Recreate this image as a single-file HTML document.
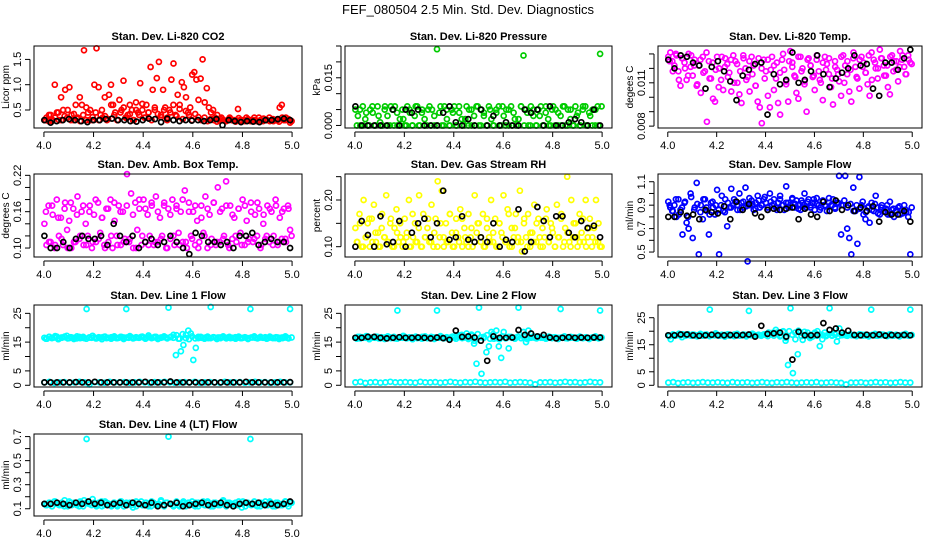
<!DOCTYPE html>
<html><head><meta charset="utf-8"><title>FEF_080504 diagnostics</title>
<style>
html,body{margin:0;padding:0;background:#fff;}
svg{display:block;font-family:"Liberation Sans",Arial,sans-serif;}
</style></head>
<body>
<svg id="chart" width="936" height="540" viewBox="0 0 936 540">
<rect width="936" height="540" fill="#fff"/>
<text x="468" y="14" text-anchor="middle" font-size="13">FEF_080504  2.5 Min. Std. Dev. Diagnostics</text>
</svg>
<script>
// ---------- data ----------
const xTicks = [4.0, 4.2, 4.4, 4.6, 4.8, 5.0];
const xTickLabels = ["4.0", "4.2", "4.4", "4.6", "4.8", "5.0"];

const co2Red = [0.3,0.35,0.28,0.4,0.3,1.0,0.45,0.3,0.75,0.5,0.9,0.35,0.95,0.4,0.3,0.6,0.35,0.75,0.6,1.68,0.3,0.45,0.5,0.3,1.0,1.72,0.95,0.4,0.35,0.75,0.3,0.8,1.0,0.6,0.45,0.3,0.7,0.5,1.08,0.35,0.4,0.6,0.5,0.3,0.65,0.45,1.03,0.5,0.35,0.6,0.45,1.35,0.9,0.5,1.13,1.45,0.4,0.9,0.55,0.35,0.5,1.1,1.42,0.4,0.8,0.6,1.05,0.95,0.75,0.45,0.55,1.2,1.25,1.1,0.7,1.12,1.5,0.65,0.93,0.55,0.45,0.5,0.35,0.4,0.3,0.35,0.3,0.28,0.3,0.35,0.3,0.3,0.3,0.52,0.3,0.28,0.3,0.35,0.3,0.28,0.3,0.3,0.28,0.35,0.3,0.28,0.3,0.3,0.35,0.3,0.28,0.3,0.3,0.55,0.6,0.3,0.35,0.3,0.25];
const co2RedDense = [0.3,0.4,0.28,0.35,0.45,0.3,0.38,0.5,0.3,0.42,0.33,0.28,0.4,0.55,0.3,0.36,0.45,0.3,0.5,0.38,0.32,0.6,0.4,0.3,0.45,0.55,0.35,0.42,0.3,0.5,0.4,0.62,0.35,0.45,0.3,0.55,0.42,0.36,0.5,0.3,0.45,0.6,0.38,0.52,0.32,0.48,0.4,0.3,0.42,0.36,0.3,0.35,0.28,0.32,0.3,0.27,0.33,0.3,0.28,0.32,0.3,0.27,0.34,0.3,0.28,0.32,0.3,0.35,0.28,0.3,0.33,0.3,0.28,0.32,0.3,0.27,0.35,0.3,0.32,0.28];
const co2Black = [0.3,0.25,0.28,0.3,0.32,0.3,0.28,0.26,0.3,0.3,0.32,0.33,0.3,0.3,0.28,0.27,0.3,0.33,0.32,0.26,0.33,0.3,0.28,0.3,0.29,0.3,0.28,0.3,0.32,0.2,0.3,0.28,0.26,0.28,0.27,0.26,0.3,0.3,0.32,0.33,0.3];

const presGreen = [0.005,0.003,0,0.006,0.002,0,0.005,0.004,0,0.006,0.001,0,0.006,0.003,0,0.005,0.006,0,0.002,0.005,0,0.006,0.004,0,0.003,0.006,0,0.005,0.002,0,0.006,0.005,0,0.024,0.004,0,0.006,0.002,0,0.005,0.006,0,0.004,0.002,0,0.006,0.005,0,0.003,0.006,0,0.005,0.004,0,0.006,0.002,0,0.005,0.006,0,0.003,0.005,0,0.006,0.004,0,0.002,0.006,0.022,0.005,0,0.006,0.003,0,0.005,0.006,0,0.004,0.002,0,0.006,0.005,0,0.003,0.006,0,0.005,0.002,0,0.006,0.004,0,0.005,0.006,0,0.003,0.005,0,0.006,0.0225];
const presGreenDense = [0,0.005,0,0.004,0,0.006,0,0.003,0,0.005,0,0.006,0,0.004,0,0.002,0,0.005,0,0.006,0,0.004,0,0.005,0,0.003,0,0.006,0,0.005,0,0.004,0,0.006,0,0.002,0,0.005,0,0.006,0,0.003,0,0.005,0,0.004,0,0.006,0,0.005,0,0.002,0,0.006,0,0.004,0,0.005,0,0.003,0,0.006,0,0.005,0,0.004,0,0.006,0,0.005,0,0.003,0,0.006,0,0.004,0,0.005,0,0.006];
const presBlack = [0.006,0,0,0,0,0,0.005,0,0.005,0.004,0.005,0,0,0,0.004,0.006,0.001,0,0.002,0,0.005,0,0.003,0,0.001,0,0,0.005,0.004,0.005,0,0.006,0,0,0.001,0.002,0.001,0,0.005,0];

const tempMagenta = [0.0128,0.0131,0.0125,0.0122,0.0129,0.0118,0.0108,0.0127,0.0124,0.0112,0.013,0.0121,0.0115,0.0126,0.0108,0.0122,0.0103,0.0128,0.0118,0.0083,0.0125,0.0113,0.0099,0.0097,0.0128,0.012,0.0112,0.0105,0.0127,0.0123,0.0117,0.0104,0.0129,0.0125,0.011,0.0102,0.0096,0.0127,0.012,0.0114,0.0104,0.0128,0.0122,0.0108,0.0097,0.0093,0.0082,0.0126,0.0118,0.0101,0.0093,0.0128,0.0122,0.0113,0.0096,0.0088,0.0126,0.0119,0.0109,0.0097,0.0132,0.0124,0.0115,0.0103,0.0099,0.0128,0.012,0.0111,0.009,0.0127,0.0122,0.0114,0.0105,0.0126,0.0118,0.011,0.0098,0.0128,0.0123,0.0116,0.0107,0.0095,0.0125,0.0119,0.0111,0.0101,0.0129,0.0122,0.0116,0.0104,0.0097,0.0127,0.0121,0.0113,0.0106,0.0128,0.0124,0.0117,0.0109,0.0101,0.0131,0.0126,0.012,0.0113,0.0133,0.0127,0.0122,0.0115,0.0107,0.0102,0.0129,0.0125,0.0119,0.0111,0.0132,0.0126,0.0121,0.0116,0.0129,0.0124];
const tempMagentaDense = [0.0125,0.0118,0.013,0.0112,0.0127,0.012,0.0115,0.0129,0.0122,0.0109,0.0126,0.0117,0.0131,0.0113,0.0124,0.0119,0.0107,0.0128,0.0121,0.0114,0.0126,0.011,0.0123,0.0118,0.0129,0.0112,0.0125,0.0116,0.0108,0.0127,0.012,0.0113,0.0126,0.0119,0.0105,0.0124,0.0117,0.013,0.0111,0.0125,0.0121,0.0114,0.0128,0.0118,0.0109,0.0126,0.0122,0.0115,0.0129,0.0112,0.0124,0.0119,0.0127,0.0113,0.0121,0.0116,0.0128,0.011,0.0125,0.0119,0.0131,0.0114,0.0126,0.0121,0.0117,0.0129,0.0112,0.0124,0.012,0.0127,0.0115,0.0122,0.0128,0.0118,0.0125,0.0121,0.0129,0.0116,0.0126,0.0123];
const tempBlack = [0.0126,0.012,0.0129,0.0128,0.0124,0.0122,0.0106,0.0121,0.0125,0.0118,0.0111,0.0098,0.0115,0.0119,0.0123,0.0124,0.0088,0.0116,0.0109,0.0112,0.0131,0.011,0.0112,0.0118,0.0129,0.0116,0.0107,0.0113,0.0117,0.012,0.0129,0.0122,0.0123,0.0106,0.0101,0.0124,0.0124,0.0119,0.0127,0.0133];

const ambMagenta = [0.14,0.105,0.17,0.11,0.155,0.1,0.18,0.12,0.15,0.105,0.175,0.13,0.145,0.1,0.165,0.11,0.185,0.115,0.16,0.105,0.14,0.12,0.17,0.1,0.155,0.11,0.175,0.125,0.15,0.105,0.165,0.11,0.18,0.1,0.145,0.12,0.17,0.105,0.16,0.115,0.222,0.11,0.19,0.1,0.175,0.13,0.165,0.105,0.18,0.11,0.155,0.12,0.17,0.105,0.185,0.11,0.15,0.12,0.175,0.1,0.165,0.115,0.18,0.105,0.17,0.125,0.16,0.11,0.195,0.1,0.175,0.12,0.16,0.105,0.145,0.11,0.17,0.125,0.185,0.1,0.155,0.115,0.175,0.105,0.2,0.11,0.165,0.12,0.21,0.105,0.17,0.115,0.15,0.11,0.165,0.125,0.18,0.105,0.145,0.115,0.175,0.11,0.155,0.12,0.165,0.105,0.14,0.115,0.17,0.11,0.16,0.12,0.18,0.105,0.15,0.115,0.165,0.11,0.17,0.13];
const ambMagentaDense = [0.16,0.11,0.17,0.105,0.15,0.115,0.165,0.1,0.175,0.11,0.155,0.12,0.17,0.105,0.16,0.11,0.18,0.115,0.15,0.1,0.165,0.12,0.175,0.105,0.16,0.11,0.17,0.115,0.155,0.1,0.18,0.12,0.165,0.105,0.175,0.11,0.16,0.115,0.17,0.1,0.155,0.12,0.165,0.105,0.18,0.11,0.16,0.115,0.17,0.1,0.15,0.12,0.165,0.105,0.175,0.11,0.16,0.115,0.17,0.1,0.155,0.12,0.165,0.105,0.17,0.11,0.16,0.115,0.175,0.1,0.155,0.12,0.165,0.105,0.17,0.11,0.16,0.115,0.165,0.12];
const ambBlack = [0.12,0.1,0.1,0.11,0.1,0.115,0.12,0.115,0.115,0.12,0.105,0.14,0.12,0.11,0.12,0.1,0.11,0.115,0.105,0.11,0.12,0.11,0.1,0.09,0.125,0.12,0.11,0.11,0.105,0.11,0.1,0.12,0.12,0.125,0.105,0.11,0.115,0.11,0.11,0.1];

const rhYellow = [0.14,0.11,0.17,0.1,0.2,0.12,0.15,0.1,0.16,0.19,0.11,0.13,0.1,0.17,0.12,0.21,0.11,0.15,0.1,0.14,0.18,0.11,0.12,0.1,0.16,0.13,0.2,0.1,0.12,0.15,0.11,0.21,0.1,0.17,0.12,0.14,0.11,0.19,0.1,0.16,0.24,0.12,0.22,0.1,0.15,0.11,0.17,0.13,0.1,0.16,0.12,0.18,0.1,0.14,0.11,0.17,0.12,0.1,0.21,0.13,0.15,0.11,0.17,0.1,0.14,0.12,0.2,0.11,0.16,0.1,0.15,0.13,0.21,0.11,0.18,0.1,0.14,0.12,0.17,0.11,0.22,0.09,0.15,0.12,0.17,0.1,0.13,0.19,0.11,0.16,0.1,0.14,0.12,0.18,0.11,0.15,0.13,0.1,0.19,0.12,0.16,0.1,0.14,0.25,0.11,0.2,0.12,0.15,0.1,0.17,0.13,0.11,0.2,0.12,0.16,0.1,0.14,0.2,0.11,0.1];
const rhYellowDense = [0.11,0.15,0.1,0.12,0.16,0.11,0.13,0.1,0.14,0.12,0.11,0.16,0.1,0.13,0.15,0.11,0.12,0.1,0.17,0.11,0.14,0.1,0.12,0.16,0.11,0.13,0.1,0.15,0.12,0.11,0.17,0.1,0.13,0.11,0.16,0.12,0.1,0.14,0.11,0.15,0.12,0.1,0.16,0.11,0.13,0.1,0.15,0.12,0.11,0.17,0.1,0.14,0.12,0.11,0.16,0.1,0.13,0.11,0.15,0.12,0.1,0.16,0.11,0.14,0.1,0.12,0.17,0.11,0.13,0.1,0.15,0.12,0.11,0.16,0.1,0.14,0.12,0.11,0.15,0.1];
const rhBlack = [0.1,0.155,0.125,0.1,0.165,0.105,0.11,0.155,0.1,0.13,0.15,0.16,0.12,0.15,0.22,0.115,0.12,0.165,0.115,0.11,0.12,0.11,0.15,0.1,0.115,0.11,0.18,0.09,0.11,0.185,0.155,0.12,0.165,0.165,0.13,0.12,0.155,0.14,0.145,0.12];

const flowBlue = [0.93,0.88,0.85,0.9,0.8,0.95,0.86,0.65,0.92,0.75,0.7,1.0,0.62,0.88,1.09,0.48,0.9,0.78,0.95,0.85,0.65,0.92,0.88,0.82,1.03,0.48,0.9,0.85,0.95,0.72,0.88,1.04,0.9,0.93,0.86,1.0,0.92,0.88,1.05,0.42,0.9,0.94,0.86,0.92,0.98,0.88,0.9,0.95,0.92,0.86,1.0,0.9,0.95,0.88,0.92,0.98,0.9,0.86,1.06,0.92,0.9,0.95,0.88,0.94,0.9,0.86,0.92,1.0,0.88,0.95,0.9,0.92,0.86,0.96,0.9,0.88,0.94,0.9,0.85,0.92,0.9,0.95,0.88,0.92,1.15,0.65,0.9,1.15,0.7,0.62,0.48,1.05,0.85,0.57,1.14,0.9,0.82,0.78,0.88,0.75,0.92,0.85,0.98,0.88,0.82,0.9,0.85,0.87,0.82,0.93,0.86,0.8,0.85,0.88,0.82,0.86,0.9,0.84,0.8,0.48];
const flowBlueDense = [0.9,0.85,0.95,0.82,0.88,0.93,0.8,0.97,0.86,0.91,0.84,0.95,0.88,0.82,0.93,0.9,0.86,0.98,0.84,0.92,0.88,0.95,0.9,0.86,0.93,0.89,0.96,0.91,0.87,0.94,0.9,0.97,0.88,0.93,0.91,0.86,0.95,0.9,0.92,0.88,0.96,0.91,0.87,0.94,0.9,0.93,0.88,0.95,0.91,0.86,0.93,0.89,0.96,0.9,0.87,0.92,0.9,0.94,0.88,0.91,0.85,0.9,0.87,0.93,0.84,0.89,0.86,0.91,0.83,0.88,0.85,0.9,0.82,0.87,0.85,0.89,0.83,0.86,0.84,0.88];
const flowBlack = [0.8,0.8,0.84,0.81,0.82,0.78,0.86,0.84,0.83,0.89,0.78,0.93,0.86,0.91,0.83,0.8,0.86,0.87,0.86,0.87,0.88,0.78,0.87,0.82,0.8,0.93,0.85,0.94,0.86,0.9,0.85,0.88,0.85,0.89,0.76,0.84,0.82,0.82,0.85,0.76];

const line1CyanHigh = [16.5,16.2,16.8,16.4,16.6,16.9,16.3,16.5,16.7,17.2,16.4,16.6,16.5,16.3,16.8,16.5,16.4,26.5,16.6,16.5,16.7,16.3,16.5,16.6,16.8,16.4,16.5,16.7,16.6,16.4,16.5,16.8,16.6,26.5,16.5,16.7,16.4,16.6,16.5,16.8,16.6,16.4,16.7,16.5,16.6,16.8,16.4,16.5,16.7,16.6,27,16.8,17.5,10.5,16.2,11.8,14,17.5,19,18,8.8,13,16.4,16.8,16.5,16.6,16.4,27.2,16.7,16.5,16.6,16.4,16.7,16.5,16.6,16.4,16.5,16.7,16.6,16.4,16.5,16.6,16.4,26.5,16.6,16.5,16.4,16.6,16.5,16.7,16.4,16.6,16.5,16.4,16.6,16.5,16.4,16.6,16.5,26.5];
const line1CyanBand = [16.2,16.8,16.5,17.1,16.0,16.6,16.9,16.3,16.7,16.1,17.0,16.4,16.8,16.2,16.6,17.2,16.3,16.7,16.0,16.9,16.5,16.2,17.0,16.4,16.8,16.1,16.6,17.1,16.3,16.7,16.5,16.9,16.2,17.3,16.4,16.8,16.1,16.6,17.0,16.3,16.7,16.5,17.4,16.2,17.8,16.4,16.0,17.0,16.3,16.8,16.5,16.2,16.9,16.4,16.7,16.1,16.6,17.0,16.3,16.8,16.5,16.2,16.9,16.4,16.7,16.1,16.6,17.0,16.3,16.8,16.5,16.2,16.9,16.4,16.7,16.1,16.6,17.0,16.3,16.6];
const line1CyanLow = [1,1.2,0.8,1,1.1,0.9,1,1.2,1,0.3,1.1,1,0.9,1.2,1,1,1.1,0.9,1,1.2,1,0.9,1.1,1,1.2,1,0.9,1,1.1,1,1.2,0.9,1,1.1,1,0.9,1.2,1,1,1.1,0.9,1,1.2,1,1.1,0.9,1,1.2,1,1];
const line1Black = [1,1,1,1,1,1.1,1,1,1.2,1,1,1,1,1,1,1,1.2,1,1,1,1.3,1,1,1,1,1,1,1,1,1,1,1,1.2,1,1,1,1,1,1,1.1];

const line2CyanHigh = [16.5,16.8,16.3,16.7,16.5,17,16.4,16.6,16.5,16.8,16.3,16.5,16.6,16.4,16.7,16.5,16.3,26,16.6,16.5,16.8,16.4,16.5,16.6,16.7,16.4,16.5,16.8,16.6,16.4,16.5,16.7,16.6,26,16.5,16.7,16.4,16.6,16.3,16.8,16.6,17,16.7,17.5,16.6,18,16.4,17.2,14.5,7.5,27,4,16.8,11.5,13.5,18.5,16.2,19,13.5,9.5,18.5,16.4,12.8,16.8,16.5,16.6,27,16.4,18.5,15,19,16.5,16.6,16.4,16.7,16.5,16.6,16.4,16.5,16.7,16.6,16.4,16.5,26.5,16.6,16.4,16.6,16.5,16.7,16.4,16.6,16.5,16.4,16.6,16.5,16.4,16.6,16.5,16.5,26];
const line2CyanBand = [16.2,16.8,16.5,17.1,16.0,16.6,16.9,16.3,16.7,16.1,17.0,16.4,16.8,16.2,16.6,17.2,16.3,16.7,16.0,16.9,16.5,16.2,17.0,16.4,16.8,16.1,16.6,17.1,16.3,16.7,16.5,16.9,16.2,17.3,16.4,16.8,16.1,17.6,15.5,17.8,16.7,16.5,17.4,16.2,17.8,16.4,16.0,17.0,16.3,16.8,16.5,16.2,16.9,16.4,16.7,16.1,16.6,17.0,16.3,16.8,16.5,16.2,16.9,16.4,16.7,16.1,16.6,17.0,16.3,16.8,16.5,16.2,16.9,16.4,16.7,16.1,16.6,17.0,16.3,16.6];
const line2CyanLow = [1,1.2,0.8,1,1.1,0.9,1,1.2,1,1,1.1,1,0.9,1.2,1,1,1.1,0.9,1,1.2,1,0.9,1.1,1,1.2,1,0.9,1,1.1,1,1.2,0.9,1,1.1,1,0.9,0.3,1,1,1.1,0.9,1,1.2,1,1.1,0.9,1,1.2,1,1];
const line2Black = [16.5,16.5,16.8,16.8,16.5,16.3,16.5,16.7,16.5,16.5,16.6,16.5,16.3,16.6,16.4,15.8,19,16.8,17,16.6,15.5,8.5,17,16.5,16.5,16.6,19.2,17.5,18,17,17.5,16.6,16.3,16.5,16.7,16.5,16.6,16.5,16.6,16.6];

const line3CyanHigh = [18.5,17,18.8,18.3,18.6,18.5,18.9,18.3,18.6,18.5,18.8,18.3,18.5,18.6,18.4,18.7,18.5,28,18.6,18.5,18.8,18.4,18.5,18.6,18.7,18.4,18.5,18.8,18.6,18.4,18.5,18.7,18.6,27.5,18.5,18.7,18.4,18.6,18.3,18.8,18.6,19.5,18.8,19.5,20.5,19,18.4,20,16.5,7.5,28.5,4.5,17,11.5,19.5,16.8,18.5,19.5,17.5,18,19.5,20,14.5,17,19.5,18.5,28.5,18.4,19,16.2,21,18.5,18.6,18.4,18.7,18.5,18.6,18.4,18.5,18.7,18.6,18.4,18.5,28,18.6,18.4,18.6,18.5,18.7,18.4,18.6,18.5,18.4,18.6,18.5,18.4,18.6,18.5,18.5,28];
const line3CyanBand = [18.2,18.8,18.5,19.1,17.8,18.6,18.9,18.3,18.7,18.1,19.0,18.4,18.8,18.2,18.6,19.2,18.3,18.7,18.0,18.9,18.5,18.2,19.0,18.4,18.8,18.1,18.6,19.1,18.3,18.7,18.5,18.9,18.2,19.3,18.4,19.5,18.1,19.8,17.5,20.0,18.7,19.5,20.2,18.2,19.8,18.4,18.0,19.0,18.3,18.8,18.5,18.2,18.9,18.4,18.7,18.1,18.6,19.0,18.3,18.8,18.5,18.2,18.9,18.4,18.7,18.1,18.6,19.0,18.3,18.8,18.5,18.2,18.9,18.4,18.7,18.1,18.6,19.0,18.3,18.6];
const line3CyanLow = [1,1.2,0.8,1,1.1,0.9,1,1.2,1,1,1.1,1,0.9,1.2,1,1,1.1,0.9,1,1.2,1,0.9,1.1,1,1.2,1,0.9,1,1.1,1,1.2,0.9,1,1.1,1,0.9,0.3,1,1,1.1,0.9,1,1.2,1,1.1,0.9,1,1.2,1,1];
const line3Black = [18.5,18.5,18.8,18.8,18.5,18.3,18.5,18.7,18.5,18.5,18.6,18.5,18.6,18.8,18,22,19,19.2,19.5,18,9.5,19.8,18.5,18.5,18.6,23,20.5,21,19.5,20.2,18.6,18.5,18.7,18.5,18.8,18.4,18.6,18.5,18.6,18.5];

const line4Cyan = [0.14,0.13,0.15,0.12,0.16,0.14,0.13,0.15,0.12,0.14,0.16,0.13,0.15,0.14,0.12,0.15,0.17,0.68,0.14,0.13,0.15,0.12,0.14,0.16,0.13,0.15,0.14,0.12,0.15,0.13,0.14,0.16,0.12,0.15,0.14,0.13,0.15,0.12,0.14,0.16,0.13,0.15,0.14,0.12,0.15,0.13,0.14,0.16,0.13,0.15,0.7,0.14,0.12,0.15,0.13,0.14,0.16,0.12,0.15,0.14,0.13,0.15,0.12,0.14,0.16,0.13,0.15,0.14,0.12,0.15,0.13,0.14,0.16,0.13,0.15,0.14,0.12,0.15,0.13,0.14,0.16,0.12,0.15,0.68,0.14,0.13,0.15,0.12,0.14,0.16,0.13,0.15,0.14,0.12,0.15,0.13,0.14,0.16,0.14,0.15];
const line4CyanBand = [0.13,0.15,0.12,0.16,0.14,0.13,0.17,0.12,0.15,0.14,0.13,0.16,0.12,0.15,0.14,0.18,0.13,0.15,0.12,0.16,0.14,0.13,0.15,0.12,0.16,0.14,0.13,0.15,0.11,0.16,0.14,0.13,0.15,0.12,0.16,0.14,0.13,0.17,0.12,0.15,0.14,0.13,0.16,0.12,0.15,0.14,0.13,0.16,0.12,0.15,0.14,0.13,0.16,0.12,0.15,0.14,0.13,0.17,0.12,0.15,0.14,0.13,0.16,0.11,0.15,0.14,0.13,0.16,0.12,0.15,0.14,0.13,0.16,0.12,0.15,0.14,0.13,0.16,0.12,0.15];
const line4Black = [0.14,0.14,0.15,0.14,0.13,0.15,0.14,0.16,0.14,0.15,0.13,0.14,0.15,0.13,0.15,0.14,0.13,0.15,0.12,0.13,0.14,0.15,0.12,0.13,0.14,0.15,0.13,0.14,0.15,0.13,0.12,0.14,0.15,0.14,0.15,0.13,0.14,0.13,0.14,0.16];

// ---------- drawing ----------
const NS = "http://www.w3.org/2000/svg";
const svg = document.getElementById("chart");
function mk(tag, attrs, parent) {
  const e = document.createElementNS(NS, tag);
  for (const k in attrs) e.setAttribute(k, attrs[k]);
  (parent || svg).appendChild(e);
  return e;
}

const panels = [
  {key:"co2", title:"Stan. Dev. Li-820 CO2", ylab:"Licor ppm", box:[34,46,268,82], ylo:0.144, yhi:1.765, yt:[0.5,1.0,1.5], yl:["0.5","1.0","1.5"], s:[[co2Red,"#ff0000"],[co2RedDense,"#ff0000"],[co2Black,"#000"]]},
  {key:"pressure", title:"Stan. Dev. Li-820 Pressure", ylab:"kPa", box:[345,46,267,82], ylo:-0.0008, yhi:0.025, yt:[0,0.005,0.01,0.015,0.02,0.025], yl:["0.000","","","0.015","",""], s:[[presGreen,"#00cc00"],[presGreenDense,"#00cc00"],[presBlack,"#000"]]},
  {key:"temp", title:"Stan. Dev. Li-820 Temp.", ylab:"degees C", box:[658,46,264,82], ylo:0.00787, yhi:0.01355, yt:[0.008,0.009,0.010,0.011,0.012,0.013], yl:["0.008","","","0.011","",""], s:[[tempMagenta,"#ff00ff"],[tempMagentaDense,"#ff00ff"],[tempBlack,"#000"]]},
  {key:"amb-temp", title:"Stan. Dev. Amb. Box Temp.", ylab:"degrees C", box:[34,174,268,83], ylo:0.0852, yhi:0.2222, yt:[0.10,0.12,0.14,0.16,0.18,0.20,0.22], yl:["0.10","","","0.16","","","0.22"], s:[[ambMagenta,"#ff00ff"],[ambMagentaDense,"#ff00ff"],[ambBlack,"#000"]]},
  {key:"rh", title:"Stan. Dev. Gas Stream RH", ylab:"percent", box:[345,174,267,83], ylo:0.0779, yhi:0.2557, yt:[0.10,0.15,0.20,0.25], yl:["0.10","","0.20",""], s:[[rhYellow,"#ffff00"],[rhYellowDense,"#ffff00"],[rhBlack,"#000"]]},
  {key:"sample-flow", title:"Stan. Dev. Sample Flow", ylab:"ml/min", box:[658,174,264,83], ylo:0.4577, yhi:1.166, yt:[0.5,0.6,0.7,0.8,0.9,1.0,1.1], yl:["0.5","","0.7","","0.9","","1.1"], s:[[flowBlue,"#0000ff"],[flowBlueDense,"#0000ff"],[flowBlack,"#000"]]},
  {key:"line1", title:"Stan. Dev. Line 1 Flow", ylab:"ml/min", box:[34,305,268,82], ylo:-0.6, yhi:27.9, yt:[0,5,10,15,20,25], yl:["0","5","","15","","25"], s:[[line1CyanHigh,"#00ffff"],[line1CyanBand,"#00ffff"],[line1CyanLow,"#00ffff"],[line1Black,"#000"]]},
  {key:"line2", title:"Stan. Dev. Line 2 Flow", ylab:"ml/min", box:[345,305,267,82], ylo:-0.6, yhi:27.9, yt:[0,5,10,15,20,25], yl:["0","5","","15","","25"], s:[[line2CyanHigh,"#00ffff"],[line2CyanBand,"#00ffff"],[line2CyanLow,"#00ffff"],[line2Black,"#000"]]},
  {key:"line3", title:"Stan. Dev. Line 3 Flow", ylab:"ml/min", box:[658,305,264,82], ylo:-0.63, yhi:29.7, yt:[0,5,10,15,20,25], yl:["0","5","","15","","25"], s:[[line3CyanHigh,"#00ffff"],[line3CyanBand,"#00ffff"],[line3CyanLow,"#00ffff"],[line3Black,"#000"]]},
  {key:"line4", title:"Stan. Dev. Line 4 (LT) Flow", ylab:"ml/min", box:[34,434,268,82], ylo:0.0397, yhi:0.7215, yt:[0.1,0.2,0.3,0.4,0.5,0.6,0.7], yl:["0.1","","0.3","","0.5","","0.7"], s:[[line4Cyan,"#00ffff"],[line4CyanBand,"#00ffff"],[line4Black,"#000"]]}
];

panels.forEach(p => {
  const [bx, by, bw, bh] = p.box;
  const xs = v => bx + bw * (v - 3.96) / 1.08;
  const ys = v => by + bh - bh * (v - p.ylo) / (p.yhi - p.ylo);
  const g = mk("g", {});
  
  

  p.s.forEach((ser, si) => {
    const vals = ser[0], col = ser[1];
    const sg = mk("g", {fill: "none", stroke: col, "stroke-width": 1.7}, g);
    
    
    const n = vals.length;
    const off = si === 1 ? 0.006 : 0;
    vals.forEach((v, i) => {
      const xv = 4 + (n > 1 ? i / (n - 1) : 0) * 0.99 + 0.002 + off;
      const c = mk("circle", {cx: xs(xv).toFixed(1), cy: ys(v).toFixed(1), r: 2.5}, sg);
      
      
    });
  });

  const fr = mk("rect", {x: bx, y: by, width: bw, height: bh, fill: "none", stroke: "#000", "stroke-width": 1}, g);
  
  

  const t = mk("text", {x: bx + bw / 2, y: by - 6, "text-anchor": "middle", "font-size": 11, "font-weight": "bold"}, g);
  t.textContent = p.title;
  
  

  const xa = mk("g", {stroke: "#000", "stroke-width": 1}, g);
  
  
  const ay = by + bh + 4;
  mk("line", {x1: xs(4.0), x2: xs(5.0), y1: ay, y2: ay}, xa);
  xTicks.forEach((tv, i) => {
    mk("line", {x1: xs(tv), x2: xs(tv), y1: ay, y2: ay + 5}, xa);
    const tl = mk("text", {x: xs(tv), y: ay + 17, "text-anchor": "middle", "font-size": 11, stroke: "none", fill: "#000"}, xa);
    tl.textContent = xTickLabels[i];
    
    
  });

  const ya = mk("g", {stroke: "#000", "stroke-width": 1}, g);
  
  
  const ax = bx - 4;
  mk("line", {x1: ax, x2: ax, y1: ys(p.yt[0]), y2: ys(p.yt[p.yt.length - 1])}, ya);
  p.yt.forEach((tv, i) => {
    const yy = ys(tv);
    mk("line", {x1: ax - 5, x2: ax, y1: yy, y2: yy}, ya);
    if (p.yl[i]) {
      const tl = mk("text", {x: 0, y: 0, transform: `translate(${ax - 9},${yy}) rotate(-90)`, "text-anchor": "middle", "font-size": 11, stroke: "none", fill: "#000"}, ya);
      tl.textContent = p.yl[i];
      
      
    }
  });
  const yl = mk("text", {x: 0, y: 0, transform: `translate(${bx - 25},${by + bh / 2}) rotate(-90)`, "text-anchor": "middle", "font-size": 10}, g);
  yl.textContent = p.ylab;
  
  
});
</script>
</body></html>
